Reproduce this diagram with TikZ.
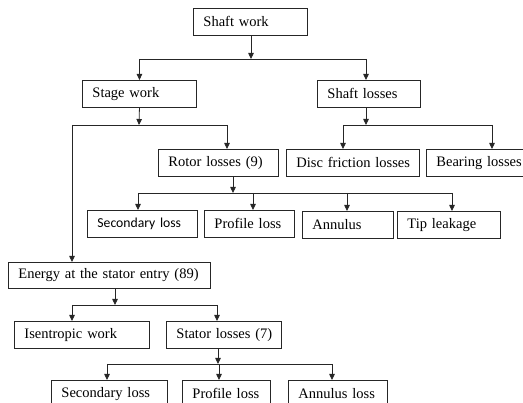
\documentclass[tikz,border=0pt]{standalone}
\usepackage{fontspec}
\setmainfont{Liberation Serif}
\newfontfamily\calfont{Carlito}
\usetikzlibrary{arrows.meta}

\tikzset{
  blk/.style={draw=black!85, line width=0.9pt, anchor=north west, minimum height=27pt,
              inner xsep=10pt, inner ysep=0pt, align=left,
              execute at begin node={\hbox\bgroup}, execute at end node={\egroup}},
  arr/.style={-{Triangle[length=6pt,width=5.5pt]}, line width=0.8pt, black!85},
  ln/.style={line width=0.8pt, black!85}
}

\begin{document}
\begin{tikzpicture}[x=1pt, y=-1pt, font=\fontsize{14.5pt}{16pt}\selectfont]
      \useasboundingbox (0,0) rectangle (523,403);

      % first levels
      \node[blk, text width=94pt] (shaft) at (193,8) {Shaft work};
      \node[blk, text width=94pt] (stage) at (82,80) {Stage work};
      \node[blk, text width=83pt] (shloss) at (317,80) {Shaft losses};

      \node[blk, text width=100pt] (rotor) at (158,149) {Rotor losses (9)};
      \node[blk, text width=113pt] (disc) at (286,149) {Disc friction losses};
      \node[blk, text width=86pt] (bearing) at (426,149) {Bearing losses};

      % rotor losses
      \node[blk, text width=90pt, font=\calfont\fontsize{13.7pt}{15pt}\selectfont] (rsec) at (87,210) {Secondary loss};
      \node[blk, text width=70pt] (rprof) at (204,210) {Profile loss};
      \node[blk, text width=71pt] (rann) at (302,211) {Annulus};
      \node[blk, text width=83pt] (rtip) at (397,211) {Tip leakage};

      \node[blk, text width=182pt, minimum height=26pt] (energy) at (8,262) {Energy at the stator entry (89)};
      \node[blk, text width=115pt] (isen) at (14,321) {Isentropic work};
      \node[blk, text width=95pt] (stator) at (166,321) {Stator losses (7)};

      % stator losses
      \node[blk, text width=96pt] (ssec) at (51,380) {Secondary loss};
      \node[blk, text width=68pt] (sprof) at (182,380) {Profile loss};
      \node[blk, text width=79pt] (sann) at (288,380) {Annulus loss};

      % junctions
      \coordinate (j1) at (251,59);
      \coordinate (j2) at (139,125);
      \coordinate (j2a) at (72,125);
      \coordinate (j2b) at (227,125);
      \coordinate (j3) at (366,125);
      \coordinate (j3a) at (343,125);
      \coordinate (j3b) at (492,125);
      \coordinate (j4) at (233,193);
      \coordinate (j4a) at (138,193);
      \coordinate (j4b) at (253,193);
      \coordinate (j4c) at (347,193);
      \coordinate (j4d) at (452,193);
      \coordinate (j5) at (115,305);
      \coordinate (j5a) at (72,305);
      \coordinate (j5b) at (217,305);
      \coordinate (j6) at (218,364);
      \coordinate (j6a) at (107,364);
      \coordinate (j6b) at (219,364);
      \coordinate (j6c) at (332,364);

      \draw[arr] (j1 |- shaft.south) -- (j1);
      \draw[ln] (stage.north |- j1) -- (j3 |- j1);
      \draw[arr] (stage.north |- j1) -- (stage.north);
      \draw[arr] (j3 |- j1) -- (j3 |- shloss.north);

      \draw[arr] (stage.south) -- (j2);
      \draw[ln] (j2a) -- (j2b);
      \draw[arr] (j2b) -- (j2b |- rotor.north);
      \draw[arr] (j2a) -- (j2a |- energy.north);

      \draw[arr] (j3 |- shloss.south) -- (j3);
      \draw[ln] (j3a) -- (j3b);
      \draw[arr] (j3a) -- (j3a |- disc.north);
      \draw[arr] (j3b) -- (j3b |- bearing.north);

      \draw[arr] (j4 |- rotor.south) -- (j4);
      \draw[ln] (j4a) -- (j4d);
      \draw[arr] (j4a) -- (j4a |- rsec.north);
      \draw[arr] (j4b) -- (j4b |- rprof.north);
      \draw[arr] (j4c) -- (j4c |- rann.north);
      \draw[arr] (j4d) -- (j4d |- rtip.north);

      \draw[arr] (j5 |- energy.south) -- (j5);
      \draw[ln] (j5a) -- (j5b);
      \draw[arr] (j5a) -- (j5a |- isen.north);
      \draw[arr] (j5b) -- (j5b |- stator.north);

      \draw[arr] (j6 |- stator.south) -- (j6);
      \draw[ln] (j6a) -- (j6c);
      \draw[arr] (j6a) -- (j6a |- ssec.north);
      \draw[arr] (j6b) -- (j6b |- sprof.north);
      \draw[arr] (j6c) -- (j6c |- sann.north);

    \end{tikzpicture}
\end{document}
